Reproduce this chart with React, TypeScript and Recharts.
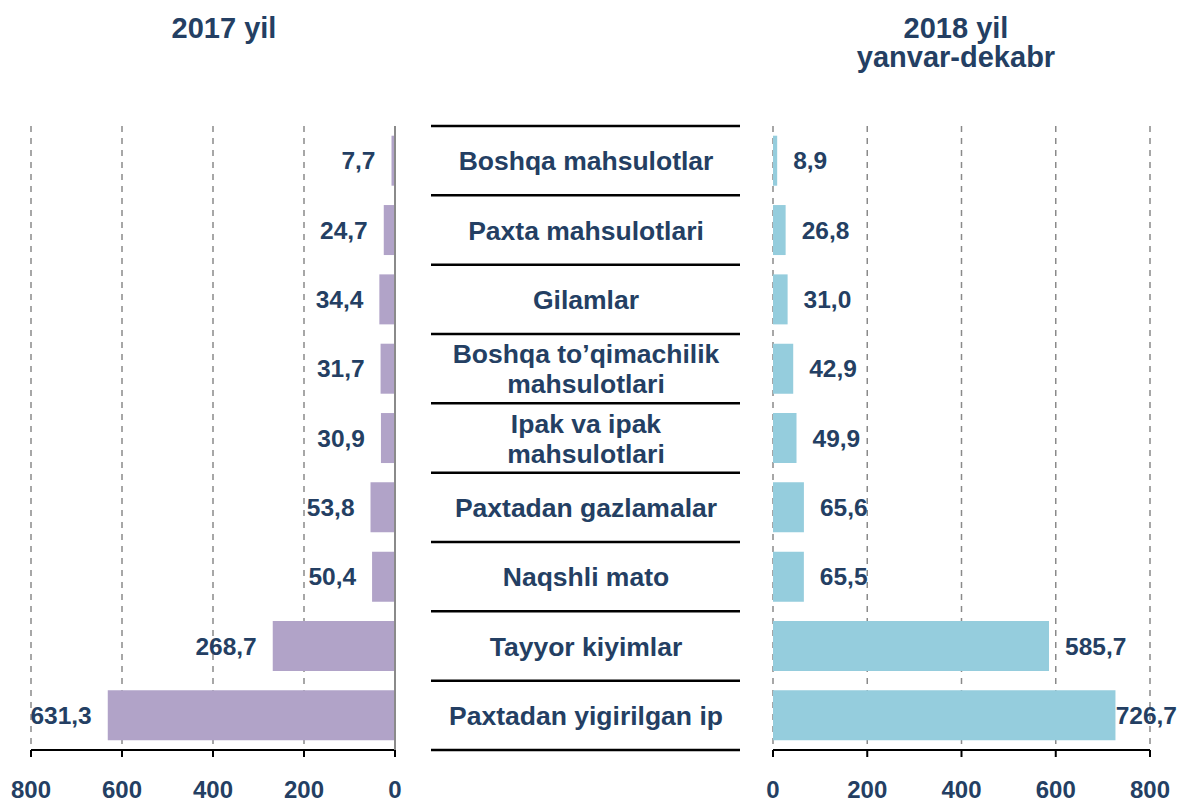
import React from "react";
import { BarChart, Bar, XAxis, YAxis, CartesianGrid, LabelList } from "recharts";

const categories = [
  "Boshqa mahsulotlar",
  "Paxta mahsulotlari",
  "Gilamlar",
  "Boshqa to’qimachilik\nmahsulotlari",
  "Ipak va ipak\nmahsulotlari",
  "Paxtadan gazlamalar",
  "Naqshli mato",
  "Tayyor kiyimlar",
  "Paxtadan yigirilgan ip",
];
const values2017 = [7.7, 24.7, 34.4, 31.7, 30.9, 53.8, 50.4, 268.7, 631.3];
const values2018 = [8.9, 26.8, 31.0, 42.9, 49.9, 65.6, 65.5, 585.7, 726.7];
const axisTicks = [0, 200, 400, 600, 800];

const data = categories.map((name, i) => ({
  name,
  v2017: values2017[i],
  v2018: values2018[i],
}));

const FONT = "'Liberation Sans', Arial, sans-serif";
const TEXT = "#243f63";
const PURPLE = "#b1a3c8";
const BLUE = "#95cddd";
const TOP = 126;
const PLOT_H = 624;
const BAND = PLOT_H / categories.length;
const VAL_SIZE = 24.5;
const RIGHT_W = 751;

const fmt = (v: number) => v.toFixed(1).replace(".", ",");

const tickStyle = { fill: TEXT, fontSize: 24, fontWeight: 700, fontFamily: FONT };

function LeftValue(props: any) {
  const { x, y, width, height, value } = props;
  const end = Math.min(x, x + width);
  return (
    <text
      x={end - 16}
      y={y + height / 2}
      dy={8.5}
      textAnchor="end"
      fill={TEXT}
      fontSize={VAL_SIZE}
      fontWeight={700}
      fontFamily={FONT}
    >
      {fmt(value)}
    </text>
  );
}

function RightValue(props: any) {
  const { x, y, width, height, value } = props;
  const end = Math.max(x, x + width);
  const label = fmt(value);
  const estW = label.length * VAL_SIZE * 0.53;
  const limit = RIGHT_W - 5;
  const fits = end + 16 + estW <= limit;
  return (
    <text
      x={fits ? end + 16 : limit}
      y={y + height / 2}
      dy={8.5}
      textAnchor={fits ? "start" : "end"}
      fill={TEXT}
      fontSize={VAL_SIZE}
      fontWeight={700}
      fontFamily={FONT}
    >
      {label}
    </text>
  );
}

// category names sit between the two charts, with a rule above each row
function CategoryTick(props: any) {
  const { y, payload } = props;
  const lines = String(payload.value).split("\n");
  const isLast = payload.value === categories[categories.length - 1];
  const first = y - ((lines.length - 1) * 30) / 2 + 9.5;
  return (
    <g>
      <line x1={0} x2={309} y1={y - BAND / 2} y2={y - BAND / 2} stroke="#000" strokeWidth={2.5} />
      {isLast && (
        <line x1={0} x2={309} y1={y + BAND / 2} y2={y + BAND / 2} stroke="#000" strokeWidth={2.5} />
      )}
      {lines.map((t, i) => (
        <text
          key={i}
          x={155}
          y={first + i * 30}
          textAnchor="middle"
          fill={TEXT}
          fontSize={26.5}
          fontWeight={700}
          fontFamily={FONT}
        >
          {t}
        </text>
      ))}
    </g>
  );
}

const titleStyle: React.CSSProperties = {
  position: "absolute",
  top: 14,
  textAlign: "center",
  color: TEXT,
  fontFamily: FONT,
  fontWeight: 700,
  fontSize: 29,
  lineHeight: "29px",
  width: 300,
};

export default function App() {
  return (
    <div
      style={{
        position: "absolute",
        left: 0,
        top: 0,
        width: 1182,
        height: 803,
        background: "#fff",
        overflow: "hidden",
      }}
    >
      <div style={{ ...titleStyle, left: 224 - 150 }}>2017 yil</div>
      <div style={{ ...titleStyle, left: 956 - 150 }}>
        2018 yil
        <br />
        yanvar-dekabr
      </div>

      <div style={{ position: "absolute", left: 0, top: 0 }}>
        <BarChart
          width={420}
          height={803}
          data={data}
          layout="vertical"
          margin={{ top: TOP, right: 24, bottom: 0, left: 31 }}
          barCategoryGap="14%"
        >
          <CartesianGrid horizontal={false} strokeDasharray="6 6" stroke="#8a8a8a" strokeWidth={1.5} />
          <XAxis
            type="number"
            domain={[0, 800]}
            ticks={axisTicks}
            reversed
            height={53}
            axisLine={{ stroke: "#000", strokeWidth: 2 }}
            tickLine={{ stroke: "#000", strokeWidth: 2 }}
            tickSize={7}
            tickMargin={24}
            tick={tickStyle}
          />
          <YAxis
            type="category"
            dataKey="name"
            orientation="right"
            width={1}
            tick={false}
            tickLine={false}
            axisLine={{ stroke: "#8a8a8a", strokeWidth: 2 }}
          />
          <Bar dataKey="v2017" fill={PURPLE} isAnimationActive={false}>
            <LabelList dataKey="v2017" content={LeftValue} />
          </Bar>
        </BarChart>
      </div>

      <div style={{ position: "absolute", left: 431, top: 0 }}>
        <BarChart
          width={RIGHT_W}
          height={803}
          data={data}
          layout="vertical"
          margin={{ top: TOP, right: 32, bottom: 0, left: 0 }}
          barCategoryGap="14%"
        >
          <CartesianGrid horizontal={false} strokeDasharray="6 6" stroke="#8a8a8a" strokeWidth={1.5} />
          <XAxis
            type="number"
            domain={[0, 800]}
            ticks={axisTicks}
            height={53}
            axisLine={{ stroke: "#000", strokeWidth: 2 }}
            tickLine={{ stroke: "#000", strokeWidth: 2 }}
            tickSize={7}
            tickMargin={24}
            tick={tickStyle}
          />
          <YAxis
            type="category"
            dataKey="name"
            width={342}
            axisLine={false}
            tickLine={false}
            tick={CategoryTick}
          />
          <Bar dataKey="v2018" fill={BLUE} isAnimationActive={false}>
            <LabelList dataKey="v2018" content={RightValue} />
          </Bar>
        </BarChart>
      </div>
    </div>
  );
}
